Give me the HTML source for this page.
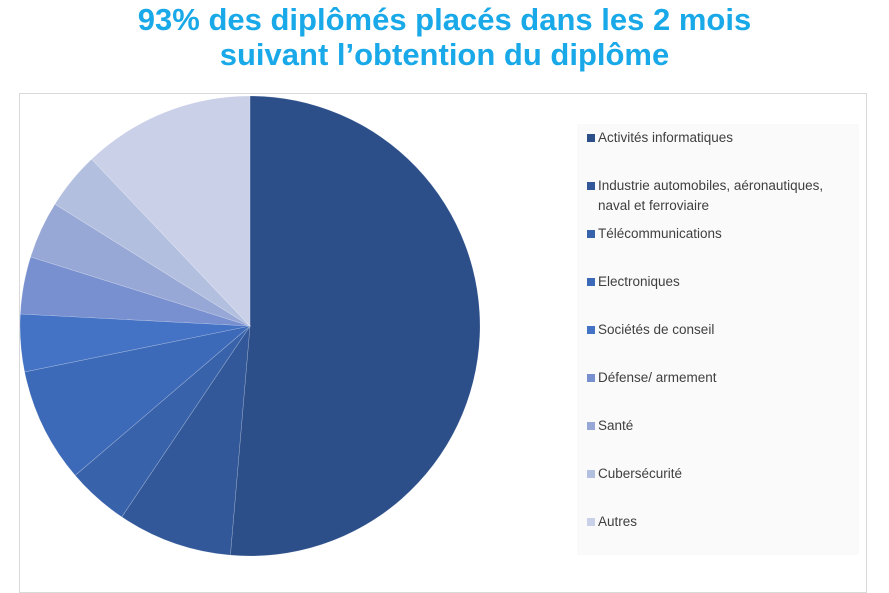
<!DOCTYPE html>
<html><head><meta charset="utf-8"><style>
body{margin:0;width:889px;height:588px;background:#fff;font-family:"Liberation Sans",sans-serif;overflow:hidden;position:relative}
#title{position:absolute;left:0;width:889px;top:2px;text-align:center;color:#1aa9e8;font-weight:bold;font-size:31px;line-height:35px}
#frame{position:absolute;left:19px;top:93px;width:848px;height:500px;border:1px solid #d9d9d9;box-sizing:border-box}
#legend{position:absolute;left:577px;top:124px;width:282px;height:431px;background:#fafafa}
.li{position:absolute;left:10px;font-size:13.5px;color:#404040;line-height:20px}
.sw{position:absolute;left:0;top:6px;width:8px;height:8px}
.tx{position:absolute;left:11px;white-space:nowrap}
</style></head><body>
<div id="title">93% des diplômés placés dans les 2 mois<br>suivant l’obtention du diplôme</div>
<div id="frame"></div>
<svg id="pie" width="889" height="588" style="position:absolute;left:0;top:0"></svg>
<div id="legend"></div>
<script>
const categories=["Activités informatiques","Industrie automobiles, aéronautiques, naval et ferroviaire","Télécommunications","Electroniques","Sociétés de conseil","Défense/ armement","Santé","Cubersécurité","Autres"];
const values=[51,8,4.3,8,4,4,4,4,12];
const colors=["#2c4e89","#325899","#3862aa","#3d6ab8","#4472c4","#7890d0","#98a8d6","#b3bfdf","#cad0e8"];
const cx=250,cy=326,r=230;
const svg=document.getElementById('pie');
const total=values.reduce((a,b)=>a+b,0);
let a0=0;
values.forEach((v,i)=>{
  const a1=a0+v/total*2*Math.PI;
  const x0=cx+r*Math.sin(a0),y0=cy-r*Math.cos(a0),x1=cx+r*Math.sin(a1),y1=cy-r*Math.cos(a1);
  const p=document.createElementNS('http://www.w3.org/2000/svg','path');
  p.setAttribute('d',`M${cx},${cy}L${x0},${y0}A${r},${r} 0 ${a1-a0>Math.PI?1:0} 1 ${x1},${y1}Z`);
  p.setAttribute('fill',colors[i]);
  p.setAttribute('stroke','rgba(255,255,255,0.3)');
  p.setAttribute('stroke-width','0.6');
  
  
  svg.appendChild(p);
  a0=a1;
});
const lg=document.getElementById('legend');
const tops=[4,52,100,148,196,244,292,340,388];
categories.forEach((c,i)=>{
  const d=document.createElement('div');
  d.className='li';
  d.style.top=tops[i]+'px';
  
  
  const label=i===1?'Industrie automobiles, aéronautiques,<br>naval et ferroviaire':c;
  d.innerHTML=`<span class="sw" style="background:${colors[i]}"></span><span class="tx">${label}</span>`;
  lg.appendChild(d);
});
</script>
</body></html>
